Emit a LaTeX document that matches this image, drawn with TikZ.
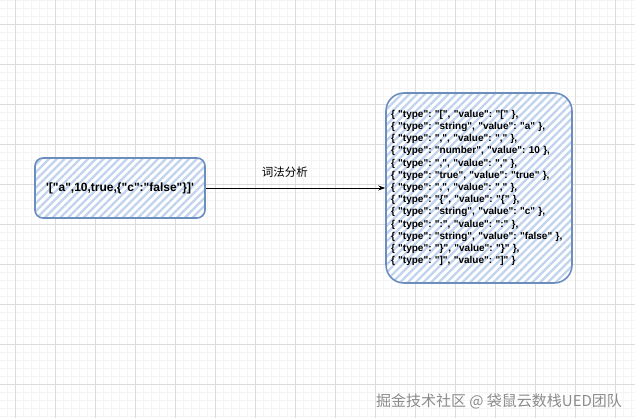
\documentclass[tikz,border=0pt]{standalone}
\usepackage{fontspec}
\setmainfont{Liberation Sans}[Ligatures=TeXOff]
\newfontfamily\cjk{Noto Sans CJK SC}
\usetikzlibrary{patterns.meta,arrows.meta}
\definecolor{boxline}{HTML}{6C8EBF}
\definecolor{hatch}{HTML}{C2D3EE}
\definecolor{gridmajor}{HTML}{DCDCDC}
\definecolor{gridminor}{HTML}{F4F4F4}
\tikzset{
  sketchbox/.style={rounded corners=#1, draw=boxline, line width=1.6pt,
    preaction={fill=white},
    pattern={Lines[angle=45,distance=5.5pt,line width=2.3pt]}, pattern color=hatch},
}

\begin{document}
\frenchspacing
\begin{tikzpicture}[x=1pt,y=1pt]
    \useasboundingbox[fill=white] (0,0) rectangle (635,418);
    \draw[gridminor, line width=0.5pt, shift={(15,2)}, step=8] (-15,-2) grid (620,416);
    \draw[gridmajor, line width=0.6pt, shift={(15,34)}, step=40] (-15,-34) grid (620,384);

    \node[sketchbox=8pt, minimum width=170pt, minimum height=60pt,
      font=\bfseries\fontsize{12}{14}\selectfont] (src) at (120,230)
      {'["a",10,true,\{"c":"false"\}]'};
    \node[sketchbox=18pt, minimum width=186pt, minimum height=190pt, text width=176pt,
      inner xsep=5pt, align=left, font=\bfseries\fontsize{10}{12.2}\selectfont] (tokens) at (479,230)
      {\{ "type": "[", "value": "[" \},\\
       \{ "type": "string", "value": "a" \},\\
       \{ "type": ",", "value": "," \},\\
       \{ "type": "number", "value": 10 \},\\
       \{ "type": ",", "value": "," \},\\
       \{ "type": "true", "value": "true" \},\\
       \{ "type": ",", "value": "," \},\\
       \{ "type": "\{", "value": "\{" \},\\
       \{ "type": "string", "value": "c" \},\\
       \{ "type": ":", "value": ":" \},\\
       \{ "type": "string", "value": "false" \},\\
       \{ "type": "\}", "value": "\}" \},\\
       \{ "type": "]", "value": "]" \}};

    \draw[-{Stealth[length=7pt,width=5pt]}, line width=0.8pt] (src.east) -- (tokens.west)
      node[pos=0.44, above=7pt, font=\cjk\fontsize{11.5}{13}\selectfont] (lexlabel) {词法分析};

    \node[text=black!45, font=\cjk\fontsize{15}{17}\selectfont] (mark) at (499,17)
      {掘金技术社区 @ 袋鼠云数栈UED团队};
\end{tikzpicture}
\end{document}
